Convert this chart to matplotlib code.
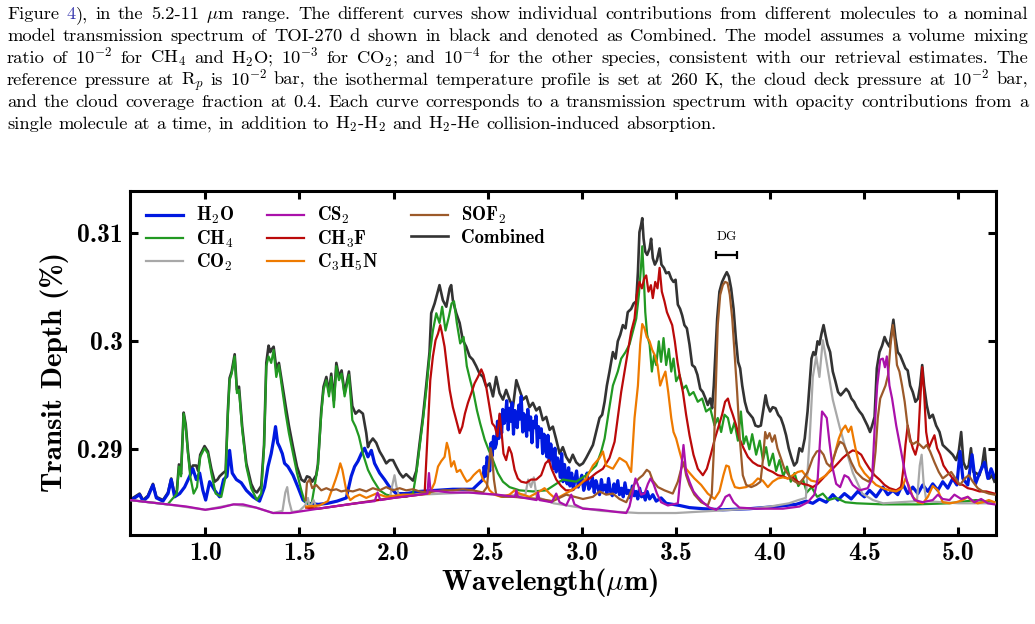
import numpy as np
import matplotlib
matplotlib.use("Agg")
import matplotlib.pyplot as plt

plt.rcParams["mathtext.fontset"] = "cm"
plt.rcParams["axes.unicode_minus"] = False

# ---------------- data: (wavelength [um], transit depth [ppm]) ----------------
h2o_pts = [(0.598,2853),(0.625,2855),(0.651,2858),(0.669,2852),(0.695,2856),(0.722,2867),(0.740,2855),(0.775,2852),(0.802,2859),(0.819,2872),(0.837,2856),(0.864,2859),(0.890,2865),(0.917,2875),(0.934,2882),(0.952,2872),(0.970,2878),(0.987,2862),(1.002,2853),(1.023,2870),(1.050,2862),(1.076,2856),(1.097,2872),(1.115,2875),(1.129,2899),(1.143,2878),(1.165,2872),(1.191,2869),(1.218,2862),(1.253,2856),(1.288,2852),(1.315,2865),(1.333,2884),(1.350,2896),(1.363,2909),(1.373,2921),(1.384,2906),(1.395,2902),(1.409,2896),(1.421,2887),(1.439,2884),(1.466,2876),(1.492,2865),(1.519,2853),(1.545,2850),(1.600,2849),(1.650,2850),(1.700,2852),(1.749,2855),(1.775,2875),(1.793,2884),(1.811,2889),(1.829,2896),(1.846,2901),(1.864,2893),(1.882,2899),(1.899,2887),(1.926,2878),(1.952,2872),(1.979,2865),(2.014,2859),(2.067,2859),(2.138,2861),(2.230,2862),(2.315,2863),(2.421,2863),(2.475,2872),(2.481,2884),(2.488,2875),(2.497,2893),(2.503,2886),(2.511,2880),(2.518,2906),(2.524,2894),(2.531,2912),(2.539,2901),(2.546,2905),(2.552,2926),(2.559,2910),(2.567,2932),(2.574,2915),(2.580,2937),(2.588,2924),(2.594,2929),(2.601,2945),(2.609,2918),(2.615,2938),(2.622,2926),(2.630,2943),(2.637,2914),(2.644,2936),(2.650,2931),(2.657,2920),(2.665,2941),(2.671,2928),(2.678,2949),(2.686,2916),(2.692,2933),(2.700,2925),(2.707,2912),(2.713,2937),(2.721,2918),(2.728,2930),(2.735,2906),(2.742,2926),(2.749,2920),(2.757,2931),(2.764,2902),(2.770,2921),(2.778,2911),(2.785,2919),(2.792,2896),(2.799,2914),(2.806,2905),(2.814,2893),(2.820,2913),(2.827,2889),(2.835,2905),(2.842,2896),(2.849,2882),(2.857,2901),(2.864,2879),(2.871,2892),(2.879,2885),(2.886,2874),(2.893,2896),(2.900,2870),(2.908,2886),(2.915,2876),(2.922,2868),(2.930,2883),(2.937,2866),(2.946,2878),(2.955,2863),(2.963,2872),(2.972,2880),(2.981,2865),(2.990,2870),(3.000,2876),(3.010,2862),(3.020,2869),(3.028,2878),(3.037,2863),(3.047,2866),(3.056,2874),(3.066,2860),(3.075,2871),(3.085,2865),(3.094,2858),(3.104,2872),(3.113,2862),(3.123,2867),(3.133,2859),(3.142,2873),(3.152,2861),(3.162,2857),(3.171,2868),(3.181,2860),(3.191,2871),(3.200,2858),(3.210,2864),(3.220,2856),(3.229,2869),(3.239,2859),(3.249,2862),(3.258,2855),(3.268,2866),(3.278,2857),(3.288,2861),(3.297,2854),(3.307,2864),(3.317,2856),(3.327,2859),(3.337,2853),(3.347,2861),(3.360,2854),(3.377,2858),(3.395,2852),(3.421,2855),(3.448,2850),(3.483,2849),(3.519,2848),(3.572,2846),(3.643,2845),(3.749,2844),(3.891,2845),(4.032,2847),(4.138,2849),(4.192,2852),(4.227,2850),(4.262,2854),(4.298,2851),(4.333,2858),(4.360,2853),(4.395,2859),(4.431,2854),(4.466,2861),(4.501,2856),(4.528,2862),(4.563,2856),(4.599,2865),(4.625,2858),(4.652,2862),(4.678,2858),(4.705,2868),(4.731,2859),(4.758,2865),(4.785,2859),(4.811,2867),(4.838,2861),(4.864,2868),(4.891,2862),(4.917,2870),(4.944,2864),(4.970,2873),(4.992,2867),(5.009,2898),(5.024,2873),(5.050,2867),(5.073,2895),(5.091,2868),(5.115,2879),(5.139,2888),(5.157,2873),(5.174,2882),(5.192,2874)]

ch4_pts = [(0.600,2853),(0.700,2851),(0.800,2849),(0.849,2859),(0.860,2884),(0.871,2875),(0.885,2933),(0.896,2921),(0.908,2896),(0.920,2875),(0.938,2859),(0.956,2865),(0.973,2893),(0.996,2901),(1.014,2896),(1.032,2878),(1.055,2859),(1.085,2856),(1.108,2875),(1.120,2933),(1.129,2964),(1.140,2970),(1.156,2986),(1.168,2952),(1.179,2955),(1.196,2918),(1.218,2884),(1.244,2864),(1.274,2853),(1.297,2859),(1.312,2902),(1.324,2977),(1.336,2986),(1.350,2980),(1.363,2992),(1.377,2967),(1.391,2978),(1.409,2955),(1.427,2933),(1.444,2915),(1.466,2896),(1.487,2878),(1.510,2862),(1.527,2852),(1.563,2848),(1.598,2884),(1.616,2933),(1.628,2955),(1.643,2964),(1.657,2949),(1.669,2967),(1.683,2939),(1.696,2977),(1.710,2964),(1.724,2970),(1.740,2949),(1.763,2969),(1.781,2927),(1.798,2921),(1.816,2912),(1.837,2896),(1.864,2881),(1.890,2872),(1.926,2862),(1.961,2858),(2.014,2856),(2.067,2856),(2.103,2859),(2.121,2878),(2.138,2902),(2.156,2927),(2.174,2955),(2.191,2986),(2.209,3010),(2.227,3026),(2.244,3017),(2.258,3032),(2.276,3010),(2.294,3023),(2.308,3035),(2.321,3037),(2.336,3017),(2.354,2998),(2.372,3004),(2.389,2977),(2.407,2964),(2.425,2952),(2.443,2936),(2.460,2924),(2.484,2909),(2.506,2899),(2.528,2890),(2.554,2878),(2.581,2870),(2.616,2865),(2.669,2862),(2.740,2861),(2.811,2862),(2.864,2868),(2.899,2872),(2.970,2870),(3.023,2876),(3.076,2885),(3.103,2898),(3.121,2910),(3.143,2935),(3.165,2959),(3.191,2972),(3.209,2984),(3.232,2990),(3.253,2997),(3.271,3009),(3.289,3021),(3.303,3043),(3.314,3068),(3.321,3088),(3.328,3064),(3.337,3027),(3.347,3006),(3.360,2997),(3.372,2972),(3.384,2987),(3.395,2978),(3.409,3000),(3.421,2981),(3.434,3003),(3.448,2978),(3.462,2993),(3.475,2972),(3.487,2984),(3.501,2963),(3.519,2969),(3.537,2956),(3.554,2959),(3.572,2950),(3.593,2953),(3.616,2944),(3.639,2947),(3.660,2935),(3.682,2938),(3.705,2922),(3.722,2929),(3.740,2916),(3.758,2932),(3.776,2929),(3.793,2915),(3.811,2925),(3.829,2908),(3.845,2935),(3.860,2905),(3.873,2912),(3.890,2900),(3.905,2914),(3.926,2895),(3.945,2908),(3.962,2890),(3.979,2902),(3.995,2885),(4.015,2896),(4.032,2880),(4.050,2890),(4.070,2875),(4.090,2884),(4.110,2870),(4.130,2878),(4.150,2866),(4.175,2872),(4.195,2860),(4.220,2865),(4.250,2856),(4.280,2859),(4.310,2853),(4.350,2855),(4.400,2851),(4.460,2850),(4.600,2849),(4.780,2849),(4.950,2850),(5.094,2853),(5.192,2851)]

co2_pts = [(0.600,2853),(0.800,2849),(1.000,2844),(1.150,2849),(1.270,2846),(1.360,2841),(1.410,2843),(1.425,2860),(1.435,2865),(1.445,2852),(1.460,2842),(1.500,2843),(1.530,2848),(1.545,2855),(1.555,2846),(1.575,2853),(1.590,2846),(1.600,2845),(1.800,2850),(1.980,2855),(1.995,2868),(2.005,2876),(2.015,2866),(2.030,2856),(2.140,2858),(2.400,2860),(2.600,2857),(2.700,2858),(2.715,2872),(2.730,2865),(2.745,2874),(2.760,2856),(2.850,2850),(3.100,2843),(3.300,2841),(3.500,2841),(3.700,2843),(3.900,2845),(4.000,2847),(4.100,2850),(4.150,2853),(4.190,2855),(4.210,2909),(4.227,2967),(4.245,2986),(4.262,2967),(4.280,3001),(4.298,2983),(4.316,2964),(4.333,2946),(4.369,2921),(4.404,2899),(4.440,2878),(4.490,2859),(4.546,2853),(4.600,2850),(4.780,2852),(4.795,2885),(4.805,2895),(4.815,2870),(4.830,2852),(5.000,2850),(5.200,2850)]

cs2_pts = [(0.600,2853),(0.700,2851),(0.800,2849),(0.900,2847),(1.000,2844),(1.080,2846),(1.150,2849),(1.200,2849),(1.270,2846),(1.360,2841),(1.450,2841),(1.600,2845),(1.800,2850),(1.900,2852),(1.915,2860),(1.930,2853),(2.000,2855),(2.140,2858),(2.180,2859),(2.188,2878),(2.196,2862),(2.300,2860),(2.400,2860),(2.550,2858),(2.645,2856),(2.652,2862),(2.660,2856),(2.760,2853),(2.767,2860),(2.775,2853),(2.840,2851),(2.864,2859),(2.882,2851),(2.917,2848),(2.944,2858),(2.961,2849),(3.006,2845),(3.094,2844),(3.183,2842),(3.236,2841),(3.253,2847),(3.271,2861),(3.285,2873),(3.298,2867),(3.315,2858),(3.333,2859),(3.351,2868),(3.365,2873),(3.381,2868),(3.399,2859),(3.421,2851),(3.457,2848),(3.510,2850),(3.528,2882),(3.540,2904),(3.554,2879),(3.572,2870),(3.593,2861),(3.616,2856),(3.643,2851),(3.678,2846),(3.714,2844),(3.740,2848),(3.763,2856),(3.784,2858),(3.806,2851),(3.837,2846),(3.926,2845),(4.068,2845),(4.156,2847),(4.200,2851),(4.235,2858),(4.253,2873),(4.266,2910),(4.276,2935),(4.289,2932),(4.301,2929),(4.315,2907),(4.333,2882),(4.351,2868),(4.372,2865),(4.395,2876),(4.416,2874),(4.439,2867),(4.475,2862),(4.519,2864),(4.542,2873),(4.556,2922),(4.569,2959),(4.585,2983),(4.599,2984),(4.610,2976),(4.620,2986),(4.634,2959),(4.648,2947),(4.670,2922),(4.696,2898),(4.719,2876),(4.740,2862),(4.767,2853),(4.811,2851),(4.864,2853),(4.891,2858),(4.917,2854),(4.953,2853),(4.979,2858),(5.015,2854),(5.050,2856),(5.085,2851),(5.121,2854),(5.157,2850),(5.192,2849)]

ch3f_pts = [(1.536,2846),(1.600,2845),(1.800,2850),(2.000,2855),(2.140,2858),(2.165,2859),(2.182,2918),(2.195,2964),(2.209,2986),(2.223,3001),(2.236,3007),(2.248,3015),(2.258,3007),(2.271,2995),(2.283,2977),(2.298,2955),(2.315,2939),(2.333,2927),(2.351,2915),(2.365,2921),(2.379,2933),(2.395,2943),(2.413,2952),(2.430,2961),(2.448,2967),(2.466,2974),(2.478,2969),(2.492,2958),(2.510,2939),(2.524,2924),(2.538,2921),(2.552,2912),(2.563,2933),(2.574,2915),(2.584,2896),(2.598,2890),(2.613,2902),(2.627,2896),(2.643,2881),(2.660,2873),(2.678,2870),(2.705,2869),(2.731,2872),(2.758,2872),(2.784,2876),(2.807,2887),(2.825,2890),(2.839,2882),(2.864,2872),(2.890,2866),(2.915,2862),(2.950,2862),(3.006,2870),(3.041,2873),(3.076,2878),(3.112,2882),(3.147,2892),(3.174,2907),(3.191,2929),(3.209,2953),(3.227,2972),(3.244,2990),(3.262,3009),(3.280,3021),(3.292,3043),(3.306,3055),(3.319,3049),(3.331,3058),(3.342,3061),(3.354,3046),(3.367,3052),(3.377,3040),(3.390,3055),(3.402,3049),(3.413,3068),(3.425,3046),(3.439,3037),(3.452,3027),(3.466,3021),(3.480,3015),(3.494,3000),(3.508,2981),(3.522,2966),(3.537,2953),(3.554,2932),(3.572,2913),(3.593,2895),(3.616,2882),(3.643,2876),(3.664,2882),(3.685,2895),(3.707,2910),(3.728,2922),(3.745,2932),(3.761,2944),(3.776,2947),(3.788,2939),(3.802,2932),(3.820,2922),(3.837,2910),(3.859,2901),(3.882,2893),(3.908,2888),(3.935,2885),(3.961,2884),(3.988,2881),(4.014,2879),(4.041,2876),(4.068,2875),(4.094,2873),(4.121,2874),(4.147,2870),(4.174,2868),(4.200,2867),(4.227,2865),(4.253,2868),(4.280,2873),(4.307,2878),(4.333,2882),(4.360,2887),(4.386,2892),(4.413,2896),(4.439,2899),(4.460,2898),(4.484,2895),(4.506,2888),(4.528,2882),(4.555,2876),(4.581,2872),(4.608,2867),(4.634,2864),(4.670,2862),(4.696,2865),(4.708,2882),(4.719,2904),(4.731,2922),(4.744,2910),(4.758,2901),(4.772,2895),(4.785,2904),(4.797,2944),(4.808,2976),(4.818,2953),(4.829,2916),(4.843,2901),(4.857,2907),(4.873,2913),(4.887,2901),(4.903,2895),(4.921,2885),(4.944,2879),(4.970,2873),(4.997,2868),(5.024,2867),(5.050,2864),(5.077,2863),(5.112,2861),(5.148,2861),(5.192,2859)]

c3h5n_pts = [(1.536,2847),(1.607,2848),(1.651,2852),(1.678,2865),(1.692,2872),(1.705,2879),(1.717,2887),(1.728,2881),(1.738,2872),(1.752,2859),(1.770,2853),(1.793,2856),(1.820,2858),(1.855,2855),(1.908,2859),(1.961,2856),(2.050,2858),(2.138,2858),(2.191,2859),(2.218,2869),(2.236,2884),(2.253,2889),(2.271,2893),(2.283,2906),(2.294,2899),(2.306,2884),(2.321,2889),(2.336,2879),(2.354,2881),(2.372,2875),(2.389,2870),(2.407,2872),(2.425,2876),(2.443,2879),(2.457,2881),(2.475,2872),(2.492,2869),(2.510,2862),(2.536,2858),(2.572,2856),(2.616,2858),(2.643,2862),(2.669,2859),(2.722,2856),(2.775,2861),(2.802,2864),(2.829,2859),(2.855,2855),(2.882,2856),(2.935,2861),(2.988,2867),(3.023,2873),(3.059,2885),(3.094,2892),(3.112,2898),(3.129,2885),(3.165,2882),(3.200,2892),(3.236,2888),(3.262,2879),(3.280,2929),(3.298,2959),(3.310,2997),(3.321,3016),(3.333,3012),(3.345,3004),(3.360,3000),(3.374,2992),(3.388,2987),(3.402,2978),(3.416,2959),(3.430,2966),(3.444,2972),(3.459,2953),(3.475,2929),(3.487,2916),(3.501,2910),(3.519,2898),(3.540,2885),(3.568,2879),(3.598,2873),(3.634,2867),(3.669,2859),(3.705,2854),(3.731,2861),(3.752,2876),(3.767,2885),(3.781,2884),(3.795,2873),(3.813,2865),(3.837,2864),(3.873,2865),(3.908,2868),(3.935,2873),(3.961,2871),(3.988,2865),(4.014,2870),(4.041,2873),(4.068,2874),(4.094,2873),(4.121,2876),(4.147,2879),(4.170,2880),(4.192,2875),(4.218,2871),(4.245,2870),(4.271,2873),(4.298,2876),(4.324,2882),(4.347,2898),(4.365,2910),(4.383,2918),(4.400,2922),(4.416,2916),(4.431,2921),(4.443,2910),(4.457,2898),(4.475,2885),(4.501,2878),(4.528,2873),(4.563,2867),(4.599,2864),(4.634,2862),(4.670,2861),(4.701,2864),(4.719,2873),(4.736,2867),(4.758,2856),(4.785,2851),(4.811,2850),(4.838,2856),(4.864,2866),(4.891,2862),(4.917,2851),(4.953,2850),(4.988,2851),(5.024,2853),(5.050,2856),(5.073,2852),(5.103,2850),(5.130,2851),(5.162,2853),(5.192,2851)]

sof2_pts = [(1.533,2853),(1.540,2869),(1.554,2872),(1.568,2864),(1.589,2867),(1.616,2862),(1.643,2864),(1.669,2862),(1.696,2863),(1.722,2861),(1.749,2862),(1.784,2861),(1.820,2863),(1.855,2861),(1.890,2864),(1.926,2862),(1.961,2865),(1.997,2862),(2.032,2864),(2.067,2862),(2.103,2863),(2.138,2861),(2.174,2860),(2.218,2861),(2.262,2862),(2.315,2862),(2.368,2863),(2.421,2862),(2.475,2860),(2.496,2865),(2.506,2884),(2.515,2901),(2.524,2893),(2.533,2872),(2.545,2858),(2.581,2856),(2.634,2856),(2.705,2855),(2.775,2854),(2.846,2852),(2.917,2858),(3.006,2854),(3.059,2856),(3.094,2861),(3.129,2858),(3.165,2859),(3.200,2854),(3.236,2851),(3.262,2861),(3.280,2868),(3.303,2873),(3.324,2876),(3.345,2881),(3.360,2879),(3.377,2871),(3.404,2865),(3.439,2862),(3.483,2859),(3.510,2870),(3.528,2882),(3.542,2888),(3.554,2876),(3.572,2867),(3.598,2858),(3.634,2851),(3.669,2848),(3.690,2858),(3.701,2898),(3.712,2959),(3.722,3015),(3.735,3043),(3.749,3052),(3.761,3055),(3.774,3054),(3.786,3043),(3.799,3021),(3.811,2990),(3.825,2953),(3.839,2910),(3.855,2876),(3.873,2867),(3.900,2865),(3.926,2867),(3.949,2870),(3.963,2892),(3.974,2916),(3.984,2910),(3.997,2915),(4.011,2907),(4.025,2913),(4.039,2901),(4.057,2892),(4.076,2882),(4.099,2876),(4.124,2871),(4.153,2868),(4.177,2873),(4.200,2879),(4.227,2892),(4.248,2898),(4.266,2899),(4.284,2895),(4.301,2887),(4.319,2884),(4.337,2892),(4.355,2901),(4.372,2907),(4.390,2905),(4.408,2898),(4.431,2888),(4.457,2879),(4.492,2873),(4.524,2870),(4.546,2876),(4.560,2898),(4.572,2929),(4.585,2947),(4.599,2953),(4.613,2959),(4.627,2969),(4.640,2997),(4.652,3015),(4.663,3000),(4.674,2978),(4.687,2972),(4.701,2959),(4.715,2944),(4.730,2922),(4.744,2907),(4.761,2905),(4.779,2907),(4.797,2904),(4.815,2901),(4.832,2904),(4.850,2898),(4.873,2888),(4.896,2879),(4.917,2873),(4.939,2876),(4.962,2879),(4.985,2873),(5.009,2867),(5.034,2873),(5.055,2876),(5.077,2870),(5.103,2864),(5.130,2861),(5.162,2859),(5.192,2858)]

combined_pts = [(0.598,2853),(0.625,2856),(0.651,2859),(0.669,2853),(0.695,2857),(0.722,2868),(0.740,2856),(0.775,2853),(0.802,2860),(0.819,2873),(0.837,2858),(0.849,2862),(0.860,2886),(0.871,2877),(0.885,2934),(0.896,2923),(0.908,2898),(0.920,2880),(0.934,2885),(0.952,2885),(0.962,2880),(0.973,2895),(0.996,2903),(1.014,2898),(1.032,2882),(1.050,2870),(1.065,2872),(1.076,2875),(1.094,2878),(1.108,2880),(1.120,2936),(1.129,2966),(1.140,2972),(1.156,2988),(1.168,2955),(1.179,2958),(1.196,2921),(1.218,2887),(1.244,2868),(1.260,2862),(1.274,2860),(1.297,2866),(1.312,2904),(1.324,2980),(1.336,2996),(1.345,2990),(1.350,2992),(1.363,2995),(1.377,2975),(1.391,2980),(1.409,2960),(1.427,2940),(1.444,2922),(1.466,2902),(1.487,2884),(1.510,2872),(1.527,2870),(1.540,2875),(1.554,2874),(1.568,2870),(1.589,2876),(1.598,2886),(1.616,2936),(1.628,2958),(1.643,2967),(1.657,2953),(1.669,2970),(1.683,2945),(1.696,2980),(1.710,2967),(1.724,2973),(1.740,2952),(1.763,2972),(1.781,2940),(1.798,2933),(1.816,2936),(1.837,2933),(1.855,2915),(1.864,2902),(1.873,2906),(1.890,2910),(1.908,2906),(1.926,2898),(1.943,2893),(1.961,2887),(1.979,2890),(1.997,2890),(2.014,2884),(2.032,2878),(2.050,2874),(2.067,2877),(2.085,2874),(2.103,2871),(2.121,2880),(2.138,2905),(2.156,2930),(2.174,2960),(2.191,2990),(2.200,3026),(2.218,3035),(2.236,3047),(2.244,3052),(2.262,3038),(2.280,3032),(2.298,3049),(2.306,3052),(2.315,3038),(2.333,3026),(2.351,3017),(2.368,3001),(2.386,2995),(2.404,2986),(2.421,2983),(2.439,2977),(2.457,2970),(2.475,2967),(2.492,2958),(2.510,2961),(2.528,2949),(2.545,2967),(2.563,2952),(2.581,2946),(2.598,2955),(2.616,2946),(2.634,2939),(2.652,2964),(2.669,2955),(2.687,2946),(2.705,2949),(2.722,2939),(2.740,2943),(2.758,2936),(2.775,2939),(2.793,2927),(2.811,2930),(2.829,2918),(2.846,2921),(2.864,2909),(2.882,2896),(2.899,2902),(2.917,2893),(2.935,2888),(2.952,2895),(2.970,2888),(2.988,2885),(3.006,2887),(3.023,2892),(3.041,2898),(3.059,2904),(3.076,2916),(3.094,2929),(3.108,2932),(3.121,2944),(3.133,2959),(3.147,2972),(3.165,2990),(3.179,2984),(3.191,3000),(3.204,3006),(3.218,3015),(3.232,3012),(3.244,3027),(3.262,3030),(3.275,3035),(3.289,3037),(3.298,3064),(3.306,3101),(3.315,3108),(3.321,3114),(3.328,3095),(3.337,3083),(3.347,3080),(3.360,3086),(3.368,3095),(3.377,3077),(3.388,3071),(3.399,3075),(3.413,3086),(3.423,3071),(3.436,3068),(3.448,3063),(3.462,3064),(3.475,3058),(3.487,3055),(3.498,3057),(3.510,3034),(3.522,3030),(3.533,3024),(3.545,3015),(3.558,3012),(3.572,2997),(3.586,2978),(3.600,2976),(3.614,2969),(3.629,2956),(3.643,2953),(3.657,2947),(3.669,2941),(3.682,2947),(3.692,2938),(3.701,2959),(3.710,2990),(3.719,3021),(3.731,3046),(3.745,3055),(3.758,3060),(3.770,3064),(3.781,3060),(3.793,3049),(3.806,3030),(3.818,3003),(3.830,2981),(3.841,2975),(3.852,2959),(3.866,2944),(3.880,2935),(3.894,2932),(3.908,2929),(3.922,2922),(3.937,2921),(3.951,2922),(3.965,2938),(3.976,2950),(3.986,2941),(4.000,2935),(4.014,2939),(4.029,2938),(4.043,2932),(4.057,2929),(4.071,2922),(4.085,2913),(4.099,2901),(4.114,2892),(4.128,2885),(4.142,2888),(4.156,2901),(4.170,2898),(4.184,2910),(4.199,2935),(4.209,2959),(4.220,2984),(4.230,2990),(4.241,2987),(4.252,3000),(4.262,2997),(4.273,3007),(4.284,3015),(4.294,3006),(4.305,2997),(4.319,2990),(4.333,2972),(4.347,2963),(4.361,2953),(4.375,2950),(4.390,2953),(4.404,2956),(4.418,2953),(4.432,2947),(4.446,2944),(4.460,2939),(4.475,2935),(4.489,2932),(4.503,2927),(4.517,2922),(4.531,2916),(4.542,2922),(4.555,2930),(4.567,2975),(4.581,2990),(4.595,2996),(4.608,3004),(4.620,2999),(4.634,2995),(4.645,3008),(4.655,3020),(4.666,3003),(4.678,2990),(4.691,2987),(4.705,2981),(4.719,2975),(4.731,2973),(4.744,2959),(4.758,2953),(4.772,2944),(4.786,2947),(4.797,2959),(4.808,2978),(4.818,2959),(4.832,2941),(4.847,2929),(4.864,2932),(4.882,2922),(4.900,2916),(4.917,2904),(4.935,2901),(4.953,2898),(4.970,2895),(4.988,2890),(5.002,2898),(5.015,2916),(5.027,2888),(5.041,2882),(5.055,2885),(5.067,2901),(5.080,2879),(5.094,2878),(5.112,2876),(5.126,2885),(5.139,2901),(5.151,2879),(5.165,2873),(5.179,2876),(5.192,2870)]

series_labels = ["H$_2$O", "CH$_4$", "CO$_2$", "CS$_2$", "CH$_3$F", "C$_3$H$_5$N", "SOF$_2$", "Combined"]
x_ticks = [1.0, 1.5, 2.0, 2.5, 3.0, 3.5, 4.0, 4.5, 5.0]
x_tick_labels = ["1.0", "1.5", "2.0", "2.5", "3.0", "3.5", "4.0", "4.5", "5.0"]
y_ticks = [0.29, 0.30, 0.31]
y_tick_labels = ["0.29", "0.3", "0.31"]
dg_center, dg_halfwidth, dg_level_ppm = 3.768, 0.054, 3080

paragraph_lines = [
    "Figure 4), in the 5.2-11 $\\mu$m range. The different curves show individual contributions from different molecules to a nominal",
    "model transmission spectrum of TOI-270 d shown in black and denoted as Combined. The model assumes a volume mixing",
    "ratio of 10$^{-2}$ for CH$_4$ and H$_2$O; 10$^{-3}$ for CO$_2$; and 10$^{-4}$ for the other species, consistent with our retrieval estimates. The",
    "reference pressure at R$_p$ is 10$^{-2}$ bar, the isothermal temperature profile is set at 260 K, the cloud deck pressure at 10$^{-2}$ bar,",
    "and the cloud coverage fraction at 0.4. Each curve corresponds to a transmission spectrum with opacity contributions from a",
    "single molecule at a time, in addition to H$_2$-H$_2$ and H$_2$-He collision-induced absorption.",
]

# ---------------- figure ----------------
W, H = 1035, 624
fig = plt.figure(figsize=(W / 100, H / 100), dpi=100)
fig.patch.set_facecolor("white")
ax = fig.add_axes([130 / W, 1 - 535 / H, 866 / W, 344 / H])

styles = [
    ("#0019e0", 2.3, 2),
    ("#229922", 1.6, 3),
    ("#a8a8a8", 1.6, 4),
    ("#aa11aa", 1.6, 8),
    ("#bb0a0a", 1.6, 5),
    ("#ee7a00", 1.6, 6),
    ("#9c5a2a", 1.6, 7),
    ("#333333", 1.9, 1),
]
all_pts = [h2o_pts, ch4_pts, co2_pts, cs2_pts, ch3f_pts, c3h5n_pts, sof2_pts, combined_pts]
handles = []
for pts, lab, (col, lw, z) in zip(all_pts, series_labels, styles):
    arr = np.array(pts, dtype=float)
    ln, = ax.plot(arr[:, 0], arr[:, 1] / 1e4, color=col, lw=lw, zorder=z, label=lab,
                  solid_joinstyle="round")
    handles.append(ln)

ax.set_xlim(0.6, 5.2)
ax.set_ylim(0.282065, 0.313917)
ax.set_xticks(x_ticks)
ax.set_xticklabels(x_tick_labels)
ax.set_yticks(y_ticks)
ax.set_yticklabels(y_tick_labels)
ax.minorticks_off()
ax.tick_params(direction="in", length=5.5, width=2.2, top=True, right=True,
               labelsize=18.5, pad=5)
for lbl in ax.get_xticklabels() + ax.get_yticklabels():
    lbl.set_fontfamily("cmb10")
for sp in ax.spines.values():
    sp.set_linewidth(2.2)

ax.set_xlabel("Wavelength($\\mu$m)", fontsize=21, fontfamily="cmb10")
ax.set_ylabel("Transit Depth (%)", fontsize=21, fontfamily="cmb10")
ax.xaxis.set_label_coords(0.484, -0.09)
ax.yaxis.set_label_coords(-0.071, 0.474)

# DG bar
ax.errorbar([dg_center], [dg_level_ppm / 1e4], xerr=[dg_halfwidth], fmt="none",
            ecolor="black", elinewidth=1.6, capsize=3, capthick=1.6, zorder=10)
ax.text(dg_center, dg_level_ppm / 1e4 + 0.0011, "DG", ha="center", va="bottom",
        fontsize=9.5, fontfamily="cmr10")

leg = ax.legend(handles=handles, loc="upper left", ncol=3, frameon=False,
                prop={"family": "cmb10", "size": 13.5},
                bbox_to_anchor=(0.003, 0.997), handlelength=1.97,
                handletextpad=0.72, columnspacing=1.72, labelspacing=0.12,
                borderaxespad=0.3)

# ---------------- paragraph text (justified) ----------------
PFS = 13.3
renderer = fig.canvas.get_renderer()
left_px, right_px = 7, 1028
baselines = [19, 41, 63, 85, 107, 129]


def make_word(word):
    if word == "4),":
        return [("4", "#3b3bb0"), ("),", "black")]
    return [(word, "black")]


for li, (line, yb) in enumerate(zip(paragraph_lines, baselines)):
    words = line.split(" ")
    items = []
    for w in words:
        segs = []
        for s, c in make_word(w):
            t = fig.text(0, 1 - yb / H, s, fontsize=PFS, fontfamily="cmr10",
                         color=c, va="baseline", ha="left")
            wpx = t.get_window_extent(renderer).width
            segs.append((t, wpx))
        items.append(segs)
    widths = [sum(wp for _, wp in segs) for segs in items]
    total = sum(widths)
    if li < len(paragraph_lines) - 1:
        gap = (right_px - left_px - total) / (len(items) - 1)
    else:
        gap = 0.333 * PFS * 100 / 72
    x = left_px
    for segs, wtot in zip(items, widths):
        xx = x
        for t, wp in segs:
            t.set_x(xx / W)
            xx += wp
        x += wtot + gap

fig.savefig("out.png", dpi=100, facecolor="white")
